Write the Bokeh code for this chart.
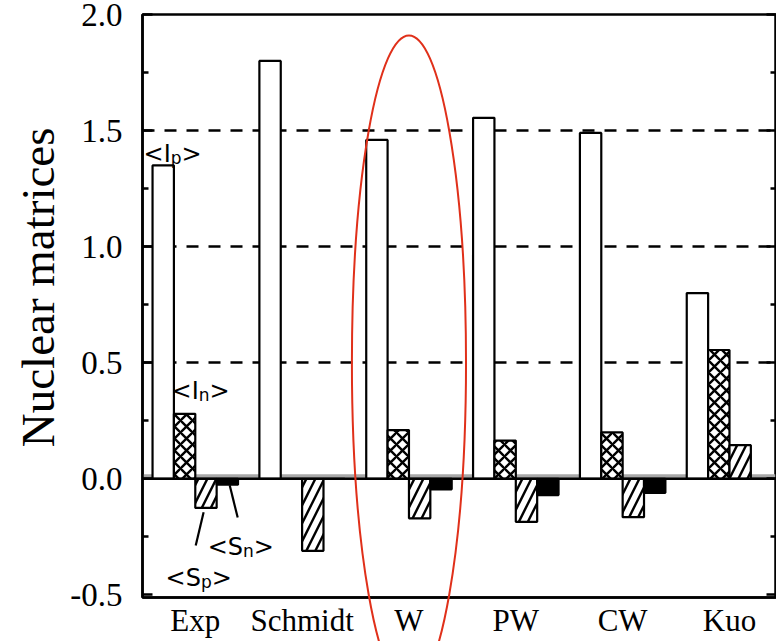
import numpy as np
from bokeh.plotting import figure
from bokeh.models import Range1d, LinearAxis, FixedTicker, Span, BoxAnnotation, Title
from bokeh.embed import file_html
from bokeh.resources import INLINE
from bokeh.core.properties import value

# ---------------- data ----------------
models = ["Exp", "Schmidt", "W", "PW", "CW", "Kuo"]
Ip = [1.35, 1.80, 1.46, 1.555, 1.49, 0.80]
In = [0.28, 0.0, 0.21, 0.165, 0.20, 0.555]
Sp = [-0.125, -0.31, -0.17, -0.185, -0.165, 0.145]
Sn = [-0.025, 0.0, -0.045, -0.07, -0.06, 0.0]
yticks = [-0.5, 0.0, 0.5, 1.0, 1.5, 2.0]
ytick_labels = ["-0.5", "0.0", "0.5", "1.0", "1.5", "2.0"]
yminor = [-0.25, 0.25, 0.75, 1.25, 1.75]
grid_levels = [0.5, 1.0, 1.5]
highlight = "W"
ylabel = "Nuclear matrices"

SERIF = "Liberation Serif"
SANS = "DejaVu Sans"
GROUP = 5  # 4 bars + 1 gap

p = figure(width=776, height=641,
           x_range=Range1d(-0.47, 29.2), y_range=Range1d(-0.511, 2.0),
           output_backend="svg", toolbar_location=None,
           min_border_left=142, min_border_top=14, min_border_bottom=44, min_border_right=0)
p.background_fill_color = "white"
p.border_fill_color = "white"
p.outline_line_color = "black"
p.outline_line_width = 2.5

# grid (dashed levels)
p.xgrid.visible = False
p.ygrid.ticker = FixedTicker(ticks=grid_levels)
p.ygrid.grid_line_color = "black"
p.ygrid.grid_line_dash = "12 10"
p.ygrid.grid_line_width = 2.5

# gray band just above zero
p.add_layout(BoxAnnotation(bottom=0, top=0.02, fill_color="#a8a8a8", fill_alpha=1.0,
                           line_color=None, level="underlay"))

# bars
series = [
    (Ip, dict(fill_color="white")),
    (In, dict(fill_color="white", hatch_pattern="diagonal_cross", hatch_scale=12,
              hatch_weight=2.4, hatch_color="black")),
    (Sp, dict(fill_color="white", hatch_pattern="right_diagonal_line", hatch_scale=18,
              hatch_weight=2.4, hatch_color="black")),
    (Sn, dict(fill_color="black")),
]
for j, (vals, style) in enumerate(series):
    xs = [GROUP * i + j + 0.5 for i in range(len(models))]
    p.vbar(x=xs, top=vals, bottom=0, width=1.0, line_color="black", line_width=2.2, **style)

# zero line
p.add_layout(Span(location=0, dimension="width", line_color="black", line_width=2.5))

# axes
ticker = FixedTicker(ticks=yticks, minor_ticks=yminor)
ya = p.yaxis[0]
ya.ticker = ticker
ya.major_label_overrides = {v: s for v, s in zip(yticks, ytick_labels)}
ya.major_label_text_font = SERIF
ya.major_label_text_font_size = "33px"
ya.major_label_text_color = "black"
ya.major_label_standoff = 20
ya.major_tick_in = 10
ya.major_tick_out = 0
ya.minor_tick_in = 6
ya.minor_tick_out = 0
ya.major_tick_line_width = 2.5
ya.minor_tick_line_width = 2.5
ya.axis_line_width = 2.5

# y-axis title placed a little above the frame centre, as in the reference
p.add_layout(Title(text=ylabel, text_font=SERIF, text_font_size="47px",
                   text_font_style="normal", text_color="black",
                   align="right", offset=113, vertical_align="bottom", standoff=8), "left")

ra = LinearAxis(ticker=ticker, major_label_overrides={v: "" for v in yticks},
                major_label_standoff=0,
                major_tick_in=10, major_tick_out=0, minor_tick_in=6, minor_tick_out=0,
                major_tick_line_width=2.5, minor_tick_line_width=2.5, axis_line_width=2.5)
p.add_layout(ra, "right")

centers = [GROUP * i + 2 for i in range(len(models))]
xa = p.xaxis[0]
xa.ticker = FixedTicker(ticks=centers)
xa.major_label_overrides = {c: m for c, m in zip(centers, models)}
xa.major_label_text_font = SERIF
xa.major_label_text_font_size = "31px"
xa.major_label_text_color = "black"
xa.major_label_standoff = 5
xa.major_tick_in = 0
xa.major_tick_out = 0
xa.minor_tick_in = 0
xa.minor_tick_out = 0
xa.axis_line_width = 2.5

# series labels with subscripts
lab_main = ["<I", "<I", "<S", "<S"]
lab_sub = ["p", "n", "n", "p"]
lab_x = [-0.42, 0.89, 2.58, 0.61]
lab_y = [1.399, 0.378, -0.294, -0.429]
main_w = [27.2 if m == "<I" else 35.4 for m in lab_main]
sub_w = 10.8
common = dict(text_font=value(SANS), text_color="black", text_align="left",
              text_baseline="alphabetic")
p.text(x=lab_x, y=lab_y, text=lab_main, text_font_size="24px", **common)
p.text(x=lab_x, y=lab_y, text=lab_sub, x_offset=main_w, y_offset=4,
       text_font_size="17px", **common)
p.text(x=lab_x, y=lab_y, text=[">"] * 4, x_offset=[w + sub_w for w in main_w],
       text_font_size="24px", **common)

# leader lines for <Sp>, <Sn>
p.segment(x0=[2.39, 3.61], y0=[-0.144, -0.028], x1=[2.02, 3.984], y1=[-0.287, -0.166],
          line_color="black", line_width=2.2)

# red ellipse around the highlighted model (overlay level so it may cross the frame)
ci = models.index(highlight)
cx, cy = GROUP * ci + 2, 0.5
p.ellipse(x=[cx], y=[cy], width=[2 * 2.67], height=[2 * 1.41], fill_alpha=0,
          line_color="#e0301a", line_width=2, level="overlay")

open("out.html", "w").write(file_html(p, INLINE))
